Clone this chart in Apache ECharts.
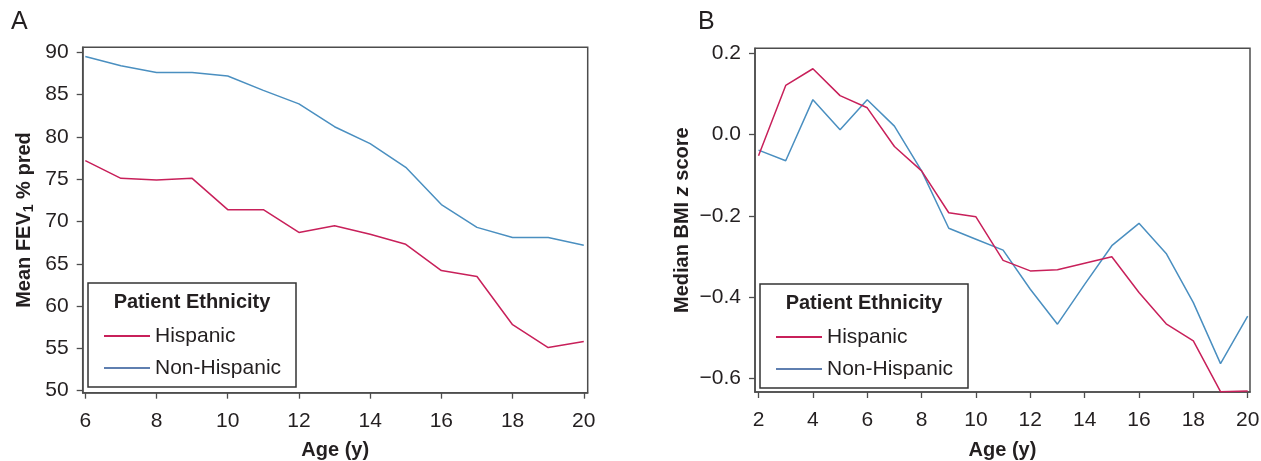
<!DOCTYPE html>
<html>
<head>
<meta charset="utf-8">
<script src="https://cdn.jsdelivr.net/npm/echarts@6/dist/echarts.min.js"></script>
<style>
html,body{margin:0;padding:0;background:#fff;}
#chart{width:1261px;height:461px;}
</style>
</head>
<body>
<div id="chart"></div>
<script>
// ---- data ----
const agesA = [6, 7, 8, 9, 10, 11, 12, 13, 14, 15, 16, 17, 18, 19, 20];
const fevHispanic = [77.2, 75.1, 74.9, 75.1, 71.4, 71.4, 68.7, 69.5, 68.5, 67.3, 64.2, 63.5, 57.8, 55.1, 55.8];
const fevNonHispanic = [89.5, 88.4, 87.6, 87.6, 87.2, 85.5, 83.9, 81.2, 79.2, 76.4, 72.0, 69.3, 68.1, 68.1, 67.2];

const agesB = [2, 3, 4, 5, 6, 7, 8, 9, 10, 11, 12, 13, 14, 15, 16, 17, 18, 19, 20];
const bmiHispanic = [-0.052, 0.121, 0.162, 0.096, 0.066, -0.029, -0.089, -0.192, -0.202, -0.309, -0.335, -0.332, -0.316, -0.300, -0.388, -0.465, -0.507, -0.632, -0.630];
const bmiNonHispanic = [-0.038, -0.064, 0.086, 0.012, 0.086, 0.021, -0.089, -0.230, -0.257, -0.284, -0.380, -0.466, -0.368, -0.273, -0.218, -0.292, -0.413, -0.563, -0.446];

const xTicksA = [6, 8, 10, 12, 14, 16, 18, 20];
const yTicksA = [50, 55, 60, 65, 70, 75, 80, 85, 90];
const xTicksB = [2, 4, 6, 8, 10, 12, 14, 16, 18, 20];
const yTicksB = [-0.6, -0.4, -0.2, 0.0, 0.2];

const seriesNames = ['Hispanic', 'Non-Hispanic'];
const legendTitle = 'Patient Ethnicity';

// ---- styles ----
const RED = '#c8205a';
const BLUE = '#4a8fc0';
const LEG_BLUE = '#5f7fb0';
const FONT = '"Liberation Sans", Arial, Helvetica, sans-serif';
const TXT = '#231f20';
const FRAME = '#4d4d4d';
const TICK_FS = 21;
const NAME_FS = 20;

function zip(xs, ys) { return xs.map((x, i) => [x, ys[i]]); }
function fmtB(v) {
  const s = Math.abs(v).toFixed(1);
  return v < -1e-9 ? '\u2212' + s : s;
}

function xAxisCfg(gridIndex, min, max, ticks) {
  return {
    type: 'value', gridIndex, min, max,
    name: 'Age (y)', nameLocation: 'middle', nameGap: 48,
    nameTextStyle: { fontFamily: FONT, fontSize: NAME_FS, fontWeight: 'bold', color: TXT },
    axisLine: { show: true, onZero: false, lineStyle: { color: FRAME, width: 1.5 } },
    axisTick: { show: true, length: 6, customValues: ticks, lineStyle: { color: FRAME, width: 1.3 } },
    axisLabel: { customValues: ticks, margin: 18, fontFamily: FONT, fontSize: TICK_FS, color: TXT },
    splitLine: { show: false }
  };
}
function yAxisCfg(gridIndex, min, max, ticks, name, nameGap, formatter, rich) {
  return {
    type: 'value', gridIndex, min, max,
    name, nameLocation: 'middle', nameGap,
    nameTextStyle: { fontFamily: FONT, fontSize: NAME_FS, fontWeight: 'bold', color: TXT, rich },
    axisLine: { show: true, onZero: false, lineStyle: { color: FRAME, width: 1.5 } },
    axisTick: { show: true, length: 6, customValues: ticks, lineStyle: { color: FRAME, width: 1.3 } },
    axisLabel: { customValues: ticks, margin: 14, fontFamily: FONT, fontSize: TICK_FS, color: TXT, formatter },
    splitLine: { show: false }
  };
}

const chart = echarts.init(document.getElementById('chart'), null, { renderer: 'canvas' });

const legendCommon = {
  orient: 'vertical',
  icon: 'rect',
  itemWidth: 46,
  itemHeight: 2,
  itemGap: 8,
  itemTextGap: 7,
  z: 100,
  textStyle: { fontFamily: FONT, fontSize: 21, color: TXT, lineHeight: 24 },
  selectedMode: false
};
const legendData = [
  { name: seriesNames[0], itemStyle: { color: RED } },
  { name: seriesNames[1], itemStyle: { color: LEG_BLUE } }
];

function legendBox(x, y) {
  return [
    { type: 'rect', shape: { x, y, width: 208, height: 104 }, style: { fill: '#fff', stroke: '#333', lineWidth: 1.5 }, z: 50 },
    { type: 'text', x: x + 104, y: y + 19, style: { text: legendTitle, fontFamily: FONT, fontSize: 20, fontWeight: 'bold', fill: TXT, align: 'center', verticalAlign: 'middle' }, z: 51 }
  ];
}

const option = {
  backgroundColor: '#fff',
  animation: false,
  grid: [
    { left: 82.7, top: 47.3, width: 505, height: 345.4, outerBoundsMode: 'none', containLabel: false, show: true, borderColor: FRAME, borderWidth: 1.5, backgroundColor: 'transparent' },
    { left: 755, top: 48.3, width: 495, height: 343.7, outerBoundsMode: 'none', containLabel: false, show: true, borderColor: FRAME, borderWidth: 1.5, backgroundColor: 'transparent' }
  ],
  xAxis: [
    xAxisCfg(0, 5.927, 20.11, xTicksA),
    xAxisCfg(1, 1.87, 20.085, xTicksB)
  ],
  yAxis: [
    yAxisCfg(0, 49.76, 90.59, yTicksA, 'Mean FEV{sub|1} % pred', 47, v => String(Math.round(v)),
      { sub: { fontFamily: FONT, fontSize: 14, fontWeight: 'bold', color: TXT, verticalAlign: 'bottom', padding: [9, 0, 0, 0] } }),
    yAxisCfg(1, -0.6327, 0.2123, yTicksB, 'Median BMI {it|z} score', 63, fmtB,
      { it: { fontFamily: FONT, fontSize: NAME_FS, fontWeight: 'bold', fontStyle: 'italic', color: TXT } })
  ],
  legend: [
    Object.assign({ left: 99, top: 319, data: legendData }, legendCommon),
    Object.assign({ left: 771, top: 320, data: legendData }, legendCommon)
  ],
  graphic: [
    { type: 'text', x: 11, y: 10, style: { text: 'A', fontFamily: FONT, fontSize: 25, fill: TXT } },
    { type: 'text', x: 698, y: 10, style: { text: 'B', fontFamily: FONT, fontSize: 25, fill: TXT } },
    ...legendBox(88, 283),
    ...legendBox(760, 284)
  ],
  series: [
    { name: seriesNames[0], type: 'line', xAxisIndex: 0, yAxisIndex: 0, data: zip(agesA, fevHispanic), showSymbol: false, lineStyle: { color: RED, width: 1.5 }, itemStyle: { color: RED }, z: 3 },
    { name: seriesNames[1], type: 'line', xAxisIndex: 0, yAxisIndex: 0, data: zip(agesA, fevNonHispanic), showSymbol: false, lineStyle: { color: BLUE, width: 1.5 }, itemStyle: { color: BLUE }, z: 3 },
    { name: seriesNames[0], type: 'line', xAxisIndex: 1, yAxisIndex: 1, data: zip(agesB, bmiHispanic), showSymbol: false, lineStyle: { color: RED, width: 1.5 }, itemStyle: { color: RED }, z: 4 },
    { name: seriesNames[1], type: 'line', xAxisIndex: 1, yAxisIndex: 1, data: zip(agesB, bmiNonHispanic), showSymbol: false, lineStyle: { color: BLUE, width: 1.5 }, itemStyle: { color: BLUE }, z: 3 }
  ]
};
chart.setOption(option);
</script>
</body>
</html>
